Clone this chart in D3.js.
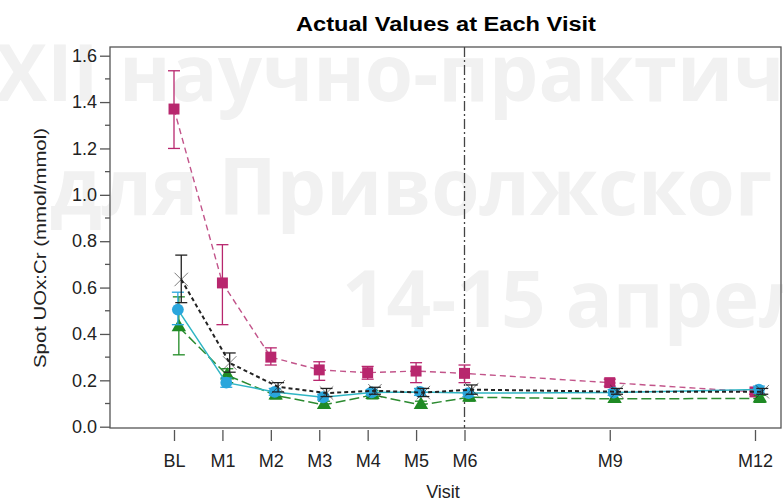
<!DOCTYPE html>
<html>
<head>
<meta charset="utf-8">
<script src="https://cdn.jsdelivr.net/npm/d3@7"></script>
<style>
  body { margin: 0; background: #fff; }
  svg { display: block; }
</style>
</head>
<body>
<div id="root"></div>
<script>
// visits and their month position on the x axis
const visits = ["BL", "M1", "M2", "M3", "M4", "M5", "M6", "M9", "M12"];
const months = [0, 1, 2, 3, 4, 5, 6, 9, 12];
const yTicks = [0, 0.2, 0.4, 0.6, 0.8, 1.0, 1.2, 1.4, 1.6];

// series values (mean, lower, upper)
const magentaMean = [1.37, 0.62, 0.30, 0.245, 0.233, 0.24, 0.23, 0.19, 0.15];
const magentaLo   = [1.20, 0.44, 0.266, 0.20, 0.205, 0.19, 0.19, 0.175, 0.14];
const magentaHi   = [1.535, 0.785, 0.34, 0.28, 0.26, 0.276, 0.266, 0.205, 0.16];

const blackMean = [0.635, 0.275, 0.172, 0.145, 0.155, 0.147, 0.16, 0.151, 0.151];
const blackLo   = [0.535, 0.235, 0.15, 0.13, 0.14, 0.13, 0.14, 0.14, 0.14];
const blackHi   = [0.74, 0.318, 0.19, 0.165, 0.17, 0.165, 0.18, 0.165, 0.165];

const cyanMean = [0.505, 0.19, 0.15, 0.127, 0.148, 0.15, 0.145, 0.147, 0.16];
const cyanLo   = [0.44, 0.17, 0.135, 0.115, 0.135, 0.135, 0.13, 0.135, 0.145];
const cyanHi   = [0.58, 0.21, 0.165, 0.14, 0.16, 0.165, 0.16, 0.16, 0.175];

const greenMean = [0.43, 0.222, 0.135, 0.094, 0.137, 0.094, 0.127, 0.12, 0.122];
const greenLo   = [0.31, 0.19, 0.12, 0.08, 0.12, 0.08, 0.11, 0.105, 0.105];
const greenHi   = [0.56, 0.25, 0.15, 0.11, 0.155, 0.11, 0.145, 0.135, 0.135];

const W = 783, H = 502;
const frame = { left: 110, right: 781, top: 47, bottom: 428 };

const svg = d3.select('#root').append('svg')
    .attr('width', W)
    .attr('height', H)
    .style('font-family', 'Liberation Sans, Arial, sans-serif');

// watermark in the background
const wm = svg.append('g')
    .attr('fill', '#f1f1f1')
    .style('font-family', 'Open Sans, sans-serif')
    .style('font-weight', 'bold')
    .style('font-size', '78px');
wm.append('text').attr('x', -5).attr('y', 101).text('XII научно-практич');
wm.append('text').attr('x', 50).attr('y', 215).text('для Приволжског');
wm.append('text').attr('x', 342).attr('y', 327).text('14-15 апрел');

// scales
const x = d3.scaleLinear().domain([0, 12]).range([174, 755]);
const y = d3.scaleLinear().domain([0, 1.6]).range([426.7, 55.7]);

// title
svg.append('text')
    .attr('x', 446).attr('y', 31)
    .attr('text-anchor', 'middle')
    .attr('font-weight', 'bold')
    .attr('font-size', 20)
    .attr('textLength', 300)
    .attr('lengthAdjust', 'spacingAndGlyphs')
    .text('Actual Values at Each Visit');

// frame
svg.append('rect')
    .attr('x', frame.left).attr('y', frame.top)
    .attr('width', frame.right - frame.left)
    .attr('height', frame.bottom - frame.top)
    .attr('fill', 'none')
    .attr('stroke', '#555')
    .attr('stroke-width', 1.3);

// y axis with minor ticks
const yAxis = d3.axisLeft(y)
    .tickValues(yTicks)
    .tickFormat(d3.format('.1f'))
    .tickSize(10)
    .tickSizeOuter(0);
const gy = svg.append('g')
    .attr('transform', `translate(${frame.left},0)`)
    .call(yAxis);
gy.select('.domain').remove();
gy.selectAll('.tick line').attr('stroke', '#555').attr('stroke-width', 1.3);
gy.selectAll('.tick text')
    .attr('font-size', 18)
    .attr('fill', '#222')
    .attr('x', -13);

const minor = d3.range(0.1, 1.6, 0.2);
svg.append('g').selectAll('line')
    .data(minor)
    .enter()
    .append('line')
    .attr('x1', frame.left - 5)
    .attr('x2', frame.left)
    .attr('y1', d => y(d))
    .attr('y2', d => y(d))
    .attr('stroke', '#555')
    .attr('stroke-width', 1.3);

// x axis
const xAxis = d3.axisBottom(x)
    .tickValues(months)
    .tickFormat((d, i) => visits[i])
    .tickSize(11)
    .tickSizeOuter(0);
const gx = svg.append('g')
    .attr('transform', `translate(0,${frame.bottom + 2})`)
    .call(xAxis);
gx.select('.domain').remove();
gx.selectAll('.tick line').attr('stroke', '#555').attr('stroke-width', 1.3);
gx.selectAll('.tick text')
    .attr('font-size', 18)
    .attr('fill', '#222')
    .attr('y', 24);

// axis titles
svg.append('text')
    .attr('x', 443).attr('y', 498)
    .attr('text-anchor', 'middle')
    .attr('font-size', 18)
    .attr('fill', '#222')
    .text('Visit');
svg.append('text')
    .attr('transform', 'translate(46,248) rotate(-90)')
    .attr('text-anchor', 'middle')
    .attr('font-size', 17)
    .attr('fill', '#222')
    .attr('textLength', 240)
    .attr('lengthAdjust', 'spacingAndGlyphs')
    .text('Spot UOx:Cr (mmol/mmol)');

// reference line at M6
svg.append('line')
    .attr('x1', x(6)).attr('x2', x(6))
    .attr('y1', frame.top).attr('y2', frame.bottom)
    .attr('stroke', '#444')
    .attr('stroke-width', 1.3)
    .attr('stroke-dasharray', '10,3,2,3');

// series
const series = [
    { mean: magentaMean, lo: magentaLo, hi: magentaHi, color: '#b8276e', line: '#c2548a', dash: '6,4', width: 1.4, shift: 0, shape: 'square' },
    { mean: greenMean, lo: greenLo, hi: greenHi, color: '#1f8a24', line: '#2b8a30', dash: '10,4', width: 1.5, shift: 0.1, shape: 'triangle' },
    { mean: cyanMean, lo: cyanLo, hi: cyanHi, color: '#2aa6dc', line: '#2fb5c4', dash: null, width: 1.5, shift: 0.08, shape: 'circle' },
    { mean: blackMean, lo: blackLo, hi: blackHi, color: '#222', line: '#222', dash: '4,3', width: 2, shift: 0.15, shape: 'cross' }
];

const symbols = {
    square: d3.symbol().type(d3.symbolSquare).size(120),
    triangle: d3.symbol().type(d3.symbolTriangle).size(90),
    circle: d3.symbol().type(d3.symbolCircle).size(110),
    cross: d3.symbol().type(d3.symbolX).size(120)
};

series.forEach(s => {
    const pts = months.map((m, i) => ({ m: m + s.shift, v: s.mean[i], lo: s.lo[i], hi: s.hi[i] }));
    const g = svg.append('g');

    g.append('path')
        .datum(pts)
        .attr('fill', 'none')
        .attr('stroke', s.line)
        .attr('stroke-width', s.width)
        .attr('stroke-dasharray', s.dash)
        .attr('d', d3.line().x(d => x(d.m)).y(d => y(d.v)));

    const eb = g.selectAll('.err').data(pts).enter().append('g').attr('class', 'err')
        .attr('stroke', s.color).attr('stroke-width', 1.3);
    eb.append('line')
        .attr('x1', d => x(d.m)).attr('x2', d => x(d.m))
        .attr('y1', d => y(d.lo)).attr('y2', d => y(d.hi));
    eb.append('line')
        .attr('x1', d => x(d.m) - 6).attr('x2', d => x(d.m) + 6)
        .attr('y1', d => y(d.lo)).attr('y2', d => y(d.lo));
    eb.append('line')
        .attr('x1', d => x(d.m) - 6).attr('x2', d => x(d.m) + 6)
        .attr('y1', d => y(d.hi)).attr('y2', d => y(d.hi));

    g.selectAll('.pt').data(pts).enter().append('path')
        .attr('class', 'pt')
        .attr('transform', d => `translate(${x(d.m)},${y(d.v)})`)
        .attr('d', symbols[s.shape]())
        .attr('fill', s.color)
        .attr('stroke', s.shape === 'cross' ? s.color : 'none')
        .attr('stroke-width', s.shape === 'cross' ? 0.6 : 0);
});
</script>
</body>
</html>
